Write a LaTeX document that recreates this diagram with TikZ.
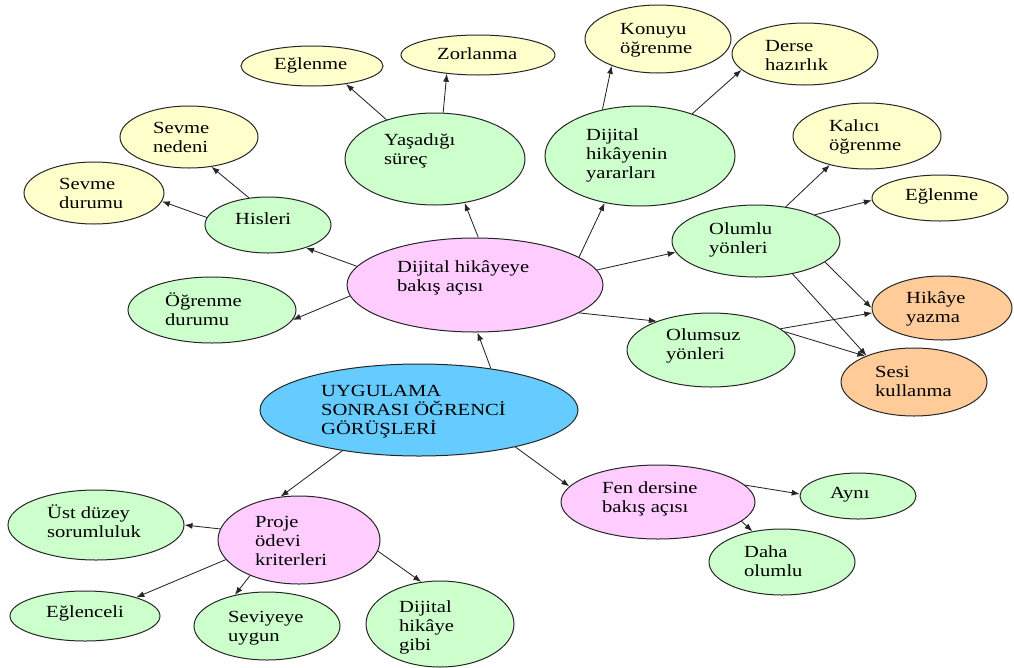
\documentclass[tikz,border=0pt]{standalone}
\usepackage{fontspec}
\setmainfont[FakeStretch=1.21]{Liberation Serif}
\usetikzlibrary{arrows.meta,shapes.geometric}
\definecolor{cyel}{HTML}{FFFFCC}
\definecolor{cgrn}{HTML}{CCFFCC}
\definecolor{cpnk}{HTML}{FFCCFF}
\definecolor{cblu}{HTML}{66CCFF}
\definecolor{corg}{HTML}{FFCC99}
\tikzset{
  bub/.style={ellipse, draw=black!85, line width=1pt, inner sep=0pt},
  yel/.style={bub, fill=cyel},
  grn/.style={bub, fill=cgrn},
  pnk/.style={bub, fill=cpnk},
  blu/.style={bub, fill=cblu},
  org/.style={bub, fill=corg},
  txt/.style={anchor=base west, align=left, inner sep=0pt, font=\fontsize{17}{19}\selectfont},
  arr/.style={-{Latex[length=8pt,width=6pt]}, line width=0.85pt, draw=black!85}
}
% last argument pair: x of text, baseline of its LAST line
\newcommand\bub[7]{%
  \node[#1, minimum width=#4pt, minimum height=#5pt] (#2) at (#3) {};
  \node[txt] (#2t) at (#6) {#7};}
\begin{document}
\begin{tikzpicture}[x=1pt,y=-1pt]
\useasboundingbox (0,0) rectangle (1014,667);
\bub{yel}{eg1}{312,66}{142}{40}{274,69}{Eğlenme}
\bub{yel}{zor}{478,55}{154}{40}{437,59}{Zorlanma}
\bub{yel}{sned}{189,137}{138}{62}{153,152}{Sevme\\nedeni}
\bub{yel}{sdur}{94,193}{140}{62}{59,208}{Sevme\\durumu}
\bub{grn}{his}{268,225}{126}{56}{235,224}{Hisleri}
\bub{grn}{yas}{435,159}{180}{92}{384,164}{Yaşadığı\\süreç}
\bub{pnk}{dhb}{475,285}{256}{94}{397,291}{Dijital hikâyeye\\bakış açısı}
\bub{grn}{ogr}{212,310}{168}{66}{165,325}{Öğrenme\\durumu}
\bub{yel}{kon}{658,39}{146}{68}{620,53}{Konuyu\\öğrenme}
\bub{yel}{der}{805,54}{146}{62}{765,70}{Derse\\hazırlık}
\bub{grn}{yar}{640,156}{190}{100}{586,178}{Dijital\\hikâyenin\\yararları}
\bub{yel}{kal}{867,136}{148}{66}{829,150}{Kalıcı\\öğrenme}
\bub{yel}{eg2}{940,198}{136}{46}{905,200}{Eğlenme}
\bub{grn}{olu}{756,241}{168}{72}{709,253}{Olumlu\\yönleri}
\bub{org}{hik}{942,308}{140}{64}{906,322}{Hikâye\\yazma}
\bub{grn}{olm}{711,350}{168}{74}{666,359}{Olumsuz\\yönleri}
\bub{org}{ses}{914,382}{146}{68}{875,396}{Sesi\\kullanma}
\bub{pnk}{fen}{658,502}{194}{74}{602,512}{Fen dersine\\bakış açısı}
\bub{grn}{ayn}{858,496}{116}{46}{830,498}{Aynı}
\bub{grn}{dah}{782,562}{146}{66}{744,576}{Daha\\olumlu}
\bub{blu}{uyg}{419,410}{318}{92}{321,434}{UYGULAMA\\SONRASI ÖĞRENCİ\\GÖRÜŞLERİ}
\bub{pnk}{pro}{299,540}{162}{88}{255,565}{Proje\\ödevi\\kriterleri}
\bub{grn}{ust}{96,525}{176}{70}{47,537}{Üst düzey\\sorumluluk}
\bub{grn}{egl}{85,616}{150}{50}{46,617}{Eğlenceli}
\bub{grn}{sev}{267,626}{146}{68}{228,641}{Seviyeye\\uygun}
\bub{grn}{dhg}{440,624}{148}{86}{399,650}{Dijital\\hikâye\\gibi}
% connectors
\draw[arr] (dhb.171.7) -- (his.-31.9);
\draw[arr] (dhb.185.6) -- (ogr.-7.3);
\draw[arr] (dhb.86.6) -- (yas.-56.3);
\draw[arr] (his.173.8) -- (sdur.-7.8);
\draw[arr] (his.125.5) -- (sned.-53.1);
\draw[arr] (yas.141.7) -- (eg1.-28.5);
\draw[arr] (yas.80.1) -- (zor.-149);
\draw[arr] (dhb.15.4) -- (yar.-127.3);
\draw[arr] (yar.129.6) -- (kon.-150.9);
\draw[arr] (yar.39.1) -- (der.-166.4);
\draw[arr] (dhb.7) -- (olu.-172.1);
\draw[arr] (olu.49.5) -- (kal.-142.2);
\draw[arr] (olu.24.6) -- (eg2.-178.2);
\draw[arr] (olu.-17.7) -- (hik.180);
\draw[arr] (olu.-42.6) -- (ses.151);
\draw[arr] (dhb.-15) -- (olm.152.6);
\draw[arr] (olm.17.7) -- (hik.-176.7);
\draw[arr] (olm.14.6) -- (ses.152.1);
\draw[arr] (uyg.30.7) -- (dhb.-87.7);
\draw[arr] (uyg.-152.6) -- (pro.113.8);
\draw[arr] (uyg.-21.5) -- (fen.170.8);
\draw[arr] (fen.11.7) -- (ayn.178);
\draw[arr] (fen.-13.5) -- (dah.134);
\draw[arr] (pro.172) -- (ust.0);
\draw[arr] (pro.-165.1) -- (egl.20.1);
\draw[arr] (pro.-144) -- (sev.136);
\draw[arr] (pro.-8.5) -- (dhg.114);
\end{tikzpicture}
\end{document}
